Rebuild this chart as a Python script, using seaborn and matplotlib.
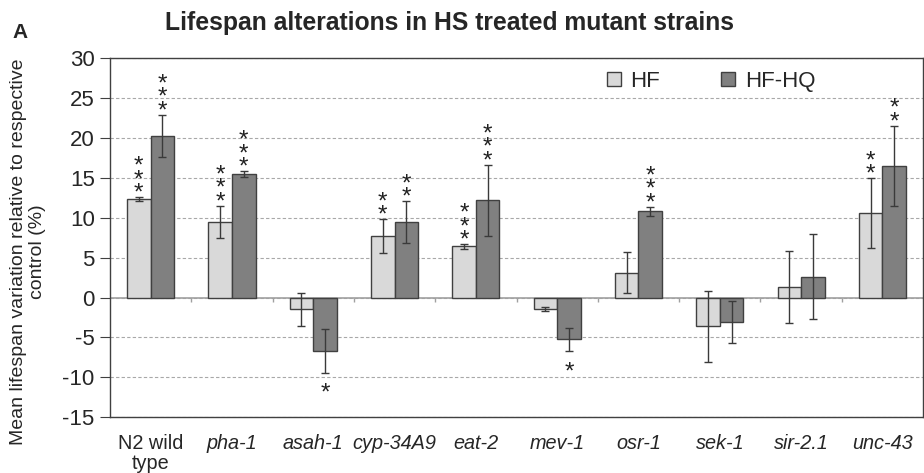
import matplotlib
matplotlib.use("Agg")
import matplotlib.pyplot as plt
from matplotlib.patches import Patch
import seaborn as sns
import pandas as pd
import numpy as np

categories = ["N2 wild\ntype", "pha-1", "asah-1", "cyp-34A9", "eat-2",
              "mev-1", "osr-1", "sek-1", "sir-2.1", "unc-43"]
italic_flags = [False, True, True, True, True, True, True, True, True, True]
hf_values = [12.3, 9.5, -1.5, 7.7, 6.4, -1.5, 3.1, -3.6, 1.3, 10.6]
hf_errors = [0.25, 2.0, 2.05, 2.1, 0.3, 0.25, 2.55, 4.45, 4.5, 4.35]
hfhq_values = [20.25, 15.45, -6.7, 9.45, 12.2, -5.25, 10.8, -3.05, 2.6, 16.5]
hfhq_errors = [2.65, 0.4, 2.7, 2.6, 4.45, 1.45, 0.55, 2.65, 5.3, 5.0]
hf_stars = ["***", "***", "", "**", "***", "", "", "", "", "**"]
hfhq_stars = ["***", "***", "*", "**", "***", "*", "***", "", "", "**"]
series = ["HF", "HF-HQ"]
colors = {"HF": "#d9d9d9", "HF-HQ": "#808080"}

sns.set_theme(style="white")
plt.rcParams["font.family"] = ["Liberation Sans", "DejaVu Sans"]
plt.rcParams["axes.unicode_minus"] = False

df = pd.DataFrame({
    "cat": categories * 2,
    "series": [series[0]] * len(categories) + [series[1]] * len(categories),
    "value": hf_values + hfhq_values,
})

fig = plt.figure(figsize=(9.24, 4.73), dpi=100)
ax = fig.add_axes([0.119, 0.118, 0.88, 0.759])

sns.barplot(data=df, x="cat", y="value", hue="series", palette=colors,
            order=categories, hue_order=series, width=0.58, gap=0,
            errorbar=None, edgecolor="#404040", linewidth=1.0,
            legend=False, ax=ax, zorder=3)

errs = [hf_errors, hfhq_errors]
vals = [hf_values, hfhq_values]
stars = [hf_stars, hfhq_stars]
star_fs = 17.5
bar_conts = list(ax.containers)
for ci, cont in enumerate(bar_conts):
    for i, bar in enumerate(cont.patches):
        xc = bar.get_x() + bar.get_width() / 2
        v = vals[ci][i]
        e = errs[ci][i]
        ax.errorbar(xc, v, yerr=e, fmt="none", ecolor="#3a3a3a",
                    elinewidth=1.0, capsize=3.2, capthick=1.0, zorder=4)
        s = stars[ci][i]
        if not s:
            continue
        txt = "\n".join(list(s))
        if v >= 0:
            ax.annotate(txt, (xc, v + e), xytext=(0, 8.5 - 0.795 * star_fs),
                        textcoords="offset points", ha="center", va="bottom",
                        fontsize=star_fs, linespacing=0.5,
                        color="#222222", zorder=5)
        else:
            ax.annotate(txt, (xc, v - e), xytext=(0, -10.0 + 0.145 * star_fs),
                        textcoords="offset points", ha="center", va="top",
                        fontsize=star_fs, linespacing=0.5,
                        color="#222222", zorder=5)

ax.set_xlim(-0.5, len(categories) - 0.5)
ax.set_ylim(-15, 30)
ax.set_yticks(np.arange(-15, 31, 5))
ax.yaxis.grid(True, linestyle=(0, (3, 2)), color="#a8a8a8", linewidth=0.8)
ax.set_axisbelow(True)
ax.axhline(0, color="#a0a0a0", linewidth=1.2, zorder=2)
ax.vlines(np.arange(len(categories) - 1) + 0.5, -0.5, 0,
          color="#a0a0a0", linewidth=1.0, zorder=2)

for sp in ["left", "bottom", "top", "right"]:
    ax.spines[sp].set_visible(True)
    ax.spines[sp].set_color("#404040")
    ax.spines[sp].set_linewidth(1.0)

ax.tick_params(axis="y", direction="out", length=7, width=0.8,
               color="#404040", labelsize=16, pad=4, left=True)
ax.tick_params(axis="x", length=0, pad=12)
ax.set_xticks(range(len(categories)))
ax.set_xticklabels(categories, fontsize=14.3, linespacing=1.05)
for lbl, it in zip(ax.get_xticklabels(), italic_flags):
    if it:
        lbl.set_style("italic")
ax.set_xlabel("")
ax.set_ylabel("Mean lifespan variation relative to respective\ncontrol (%)",
              fontsize=14, linespacing=1.15)
ax.yaxis.set_label_coords(-0.079, 0.46)

handles = [Patch(facecolor=colors[s], edgecolor="#404040", linewidth=1.0) for s in series]
ax.legend(handles, series, ncol=2, frameon=False, loc="upper left",
          bbox_to_anchor=(0.587, 1.02), fontsize=16, handlelength=0.6,
          handleheight=0.6, handletextpad=0.45, columnspacing=2.75)

fig.text(0.486, 0.951, "Lifespan alterations in HS treated mutant strains",
         ha="center", va="center", fontsize=17.8, fontweight="bold")
fig.text(0.014, 0.932, "A", ha="left", va="center", fontsize=15,
         fontweight="bold")

fig.savefig("out.png", dpi=100)
